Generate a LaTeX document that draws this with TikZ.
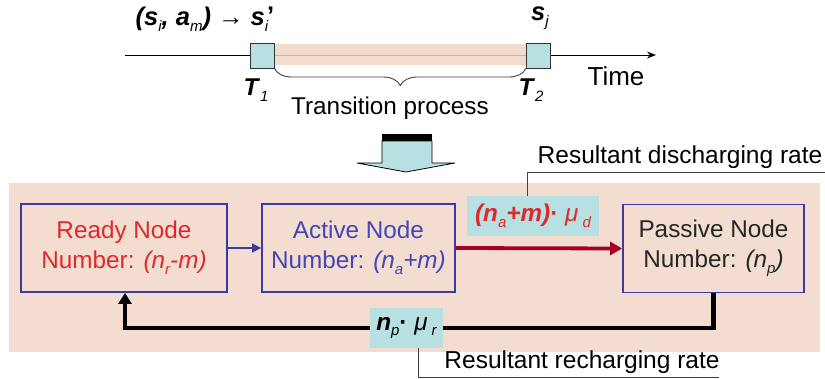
\documentclass[tikz,border=0pt]{standalone}
\usepackage{fontspec}
\setmainfont{Liberation Sans}
\usetikzlibrary{decorations.pathreplacing,arrows.meta}
\definecolor{bgpink}{HTML}{F2DDD0}
\definecolor{bandpink}{HTML}{F0D6C6}
\definecolor{lcyan}{HTML}{B8DFE2}
\definecolor{boxblue}{HTML}{3C3CA0}
\definecolor{redtxt}{HTML}{E0282A}
\definecolor{bluetxt}{HTML}{4545B5}
\definecolor{darkred}{HTML}{A50021}
\definecolor{leadgray}{HTML}{404040}
\newcommand{\lsub}[1]{\raisebox{-0.45ex}{\fontsize{15}{15}\selectfont\itshape #1}}
\newcommand{\bi}[1]{\textbf{\textit{#1}}}
\tikzset{
  nodebox/.style={draw=boxblue, line width=1.8pt, fill=bgpink, minimum height=88, inner sep=0pt, align=center},
  ratelab/.style={fill=lcyan, inner sep=0pt, minimum height=40},
  leader/.style={draw=leadgray, line width=0.8pt},
  tbox/.style={draw=black!80, line width=1pt, fill=lcyan, minimum width=24, minimum height=25, inner sep=0pt},
}
\begin{document}
\begin{tikzpicture}[x=1pt,y=-1pt, font=\fontsize{24.3}{30}\selectfont]
\useasboundingbox (0,0) rectangle (825,378);
% ---------- timeline ----------
\coordinate (tstart) at (125,55);
\coordinate (tend) at (656,55);
\draw[line width=1pt, -{Stealth[length=9pt,width=7pt]}] (tstart) -- (tend);
\fill[bandpink, fill opacity=0.85] (275,44) rectangle (527,65);
\node[tbox] (t1) at (262,55.5) {};
\node[tbox] (t2) at (538.5,55.5) {};
\draw[draw=black!75, line width=0.9pt, decorate, decoration={brace, mirror, amplitude=17pt}]
  (t1.south east) -- (t2.south west);
\node (time) at (616,76) {\fontsize{26}{26}\selectfont Time};
\node (T1) at (256,90) {\bi{T}\lsub{1}};
\node (T2) at (531,90) {\bi{T}\lsub{2}};
\node (tp) at (390,108) {Transition process};
\node[inner sep=0.5pt] (sa) at (205,19) {\fontsize{25.5}{26}\selectfont\bi{(s}\lsub{i}\bi{, a}\lsub{m}\bi{)} → \bi{s}\lsub{i}\kern-1pt\raisebox{0.1ex}{\bfseries ’}};
\node[inner sep=0.5pt] (sj) at (540,18) {\fontsize{25.5}{26}\selectfont\bi{s}\lsub{j}};
% ---------- big down arrow ----------
\fill[black] (382,134) rectangle (432,141);
\draw[fill=lcyan, line width=0.8pt] (382,141) -- (432,141) -- (432,163) -- (455,163) -- (406,172) -- (357,163) -- (382,163) -- cycle;
% ---------- lower panel ----------
\fill[bgpink] (9,183) rectangle (820,352);
\node[nodebox, minimum width=206, text=redtxt] (ready) at (124,248) {Ready Node\\Number: \textit{(n\lsub{r}-m)}};
\node[nodebox, minimum width=193, text=bluetxt] (active) at (358.5,248) {Active Node\\Number: \textit{(n\lsub{a}+m)}};
\node[nodebox, minimum width=181, text=black!85] (passive) at (713.5,248.5) {Passive Node\\Number: \textit{(n\lsub{p})}};
\draw[boxblue, line width=1.6pt, -{Triangle[length=9pt,width=9pt]}] (ready.east) -- (active.west);
\draw[darkred, line width=3.8pt, -{Triangle[length=12pt,width=13pt]}] (active.east) -- (passive.west);
\coordinate (fbr) at (713.5,328);
\coordinate (fbl) at (125,328);
\draw[black, line width=4.5pt, -{Triangle[length=11pt,width=13pt]}] (passive.south) -- (fbr) -- (fbl) -- (ready.south -| fbl);
% rate labels
\node[ratelab, minimum width=132, text=redtxt] (dlab) at (533,216) {\bi{(n}\lsub{a}\bi{+m)}\textbf{·} \textit{μ}\,\lsub{d}};
\node[ratelab, minimum width=73] (rlab) at (406.5,328) {\bi{n}\lsub{p}\textbf{·} \textit{μ}\,\lsub{r}};
% leaders
\coordinate (dl1) at (527,172);
\coordinate (dl2) at (825,172);
\draw[leader] (dlab.north -| dl1) -- (dl1) -- (dl2);
\node (dtext) at (680,157) {\fontsize{24.5}{30}\selectfont Resultant discharging rate};
\coordinate (rl1) at (418,377);
\coordinate (rl2) at (719,377);
\draw[leader] (rlab.south -| rl1) -- (rl1) -- (rl2);
\node (rtext) at (582,362) {\fontsize{24.5}{30}\selectfont Resultant recharging rate};
\end{tikzpicture}
\end{document}
